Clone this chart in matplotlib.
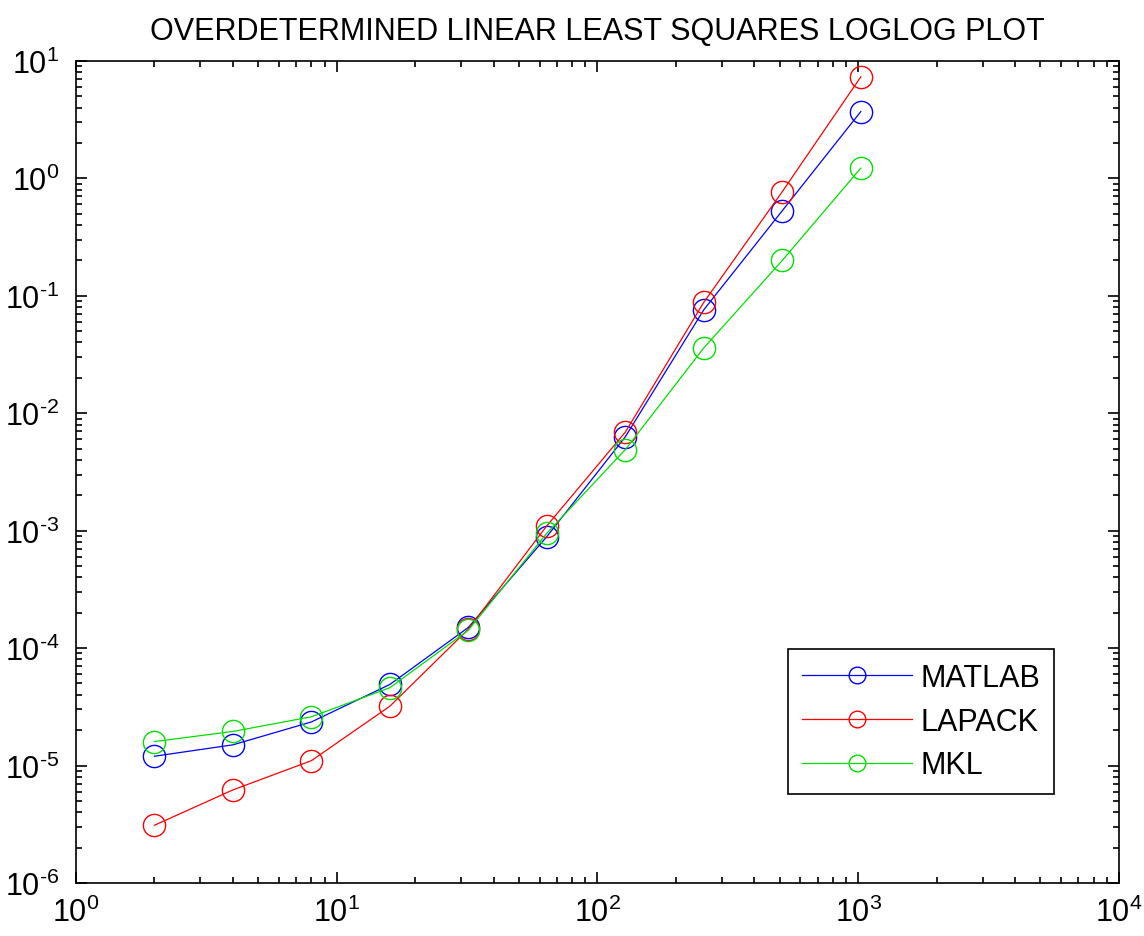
import numpy as np
import matplotlib
matplotlib.use('Agg')
import matplotlib.pyplot as plt
from matplotlib.ticker import FuncFormatter

plt.rcParams['font.family'] = ['Liberation Sans', 'DejaVu Sans']
plt.rcParams['mathtext.fontset'] = 'custom'
plt.rcParams['mathtext.rm'] = 'Liberation Sans'
plt.rcParams['mathtext.default'] = 'regular'

# problem size
n = [2, 4, 8, 16, 32, 64, 128, 256, 512, 1024]
# time (s)
matlab = [1.2e-5, 1.5e-5, 2.35e-5, 4.9e-5, 1.5e-4, 8.9e-4, 6.3e-3, 7.6e-2, 0.53, 3.7]
lapack = [3.1e-6, 6.2e-6, 1.1e-5, 3.2e-5, 1.45e-4, 1.1e-3, 6.9e-3, 8.8e-2, 0.77, 7.3]
mkl = [1.6e-5, 1.95e-5, 2.6e-5, 4.6e-5, 1.42e-4, 9.5e-4, 4.9e-3, 3.6e-2, 0.2, 1.22]
names = ['MATLAB', 'LAPACK', 'MKL']
colors = ['#0000ff', '#ff0000', '#00e000']

def fmt(v, pos):
    k = int(round(np.log10(v)))
    return r'$10^{\text{%d}}$' % k

fig = plt.figure(figsize=(11.44, 9.37), dpi=100)
ax = fig.add_axes([0.0664, 0.0566, 0.9116, 0.8774])

for y, name, c in zip([matlab, lapack, mkl], names, colors):
    ax.loglog(n, y, '-o', color=c, lw=0.9, ms=16, mfc='none', mew=1.0, label=name)

ax.set_xlim(1, 1e4)
ax.set_ylim(1e-6, 1e1)
ax.tick_params(which='both', direction='in', top=True, right=True, labelsize=22, width=1.2)
ax.tick_params(which='major', length=8)
ax.tick_params(which='minor', length=4)
ax.tick_params(axis='x', pad=10)
ax.tick_params(axis='y', pad=12)
ax.set_xticks([1, 10, 100, 1000, 10000])
ax.set_yticks([10.0**k for k in range(-6, 2)])
ax.xaxis.set_major_formatter(FuncFormatter(fmt))
ax.yaxis.set_major_formatter(FuncFormatter(fmt))
for s in ax.spines.values():
    s.set_linewidth(1.2)

ax.set_title('OVERDETERMINED LINEAR LEAST SQUARES LOGLOG PLOT', fontsize=22, pad=16)

leg = ax.legend(loc='lower right', bbox_to_anchor=(0.938, 0.108), borderaxespad=0,
                fontsize=22, fancybox=False, framealpha=1, edgecolor='black',
                handlelength=3.6, borderpad=0.45, labelspacing=0.45,
                handletextpad=0.3, markerscale=0.75)
leg.get_frame().set_linewidth(1.2)

fig.savefig('out.png', dpi=100)
